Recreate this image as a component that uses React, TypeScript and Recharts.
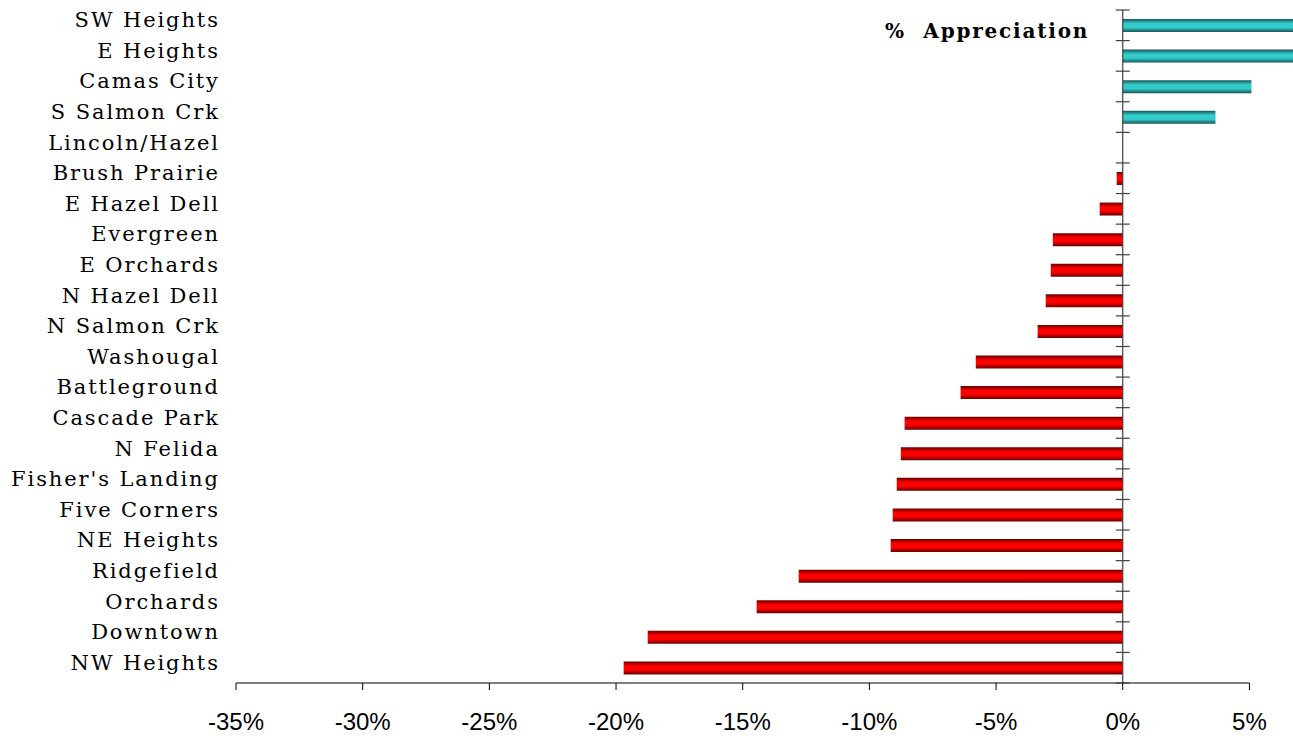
import { BarChart, Bar, XAxis, YAxis, Cell, ReferenceLine, ReferenceArea } from "recharts"

const areas = [
  "SW Heights", "E Heights", "Camas City", "S Salmon Crk", "Lincoln/Hazel", "Brush Prairie",
  "E Hazel Dell", "Evergreen", "E Orchards", "N Hazel Dell", "N Salmon Crk", "Washougal",
  "Battleground", "Cascade Park", "N Felida", "Fisher's Landing", "Five Corners", "NE Heights",
  "Ridgefield", "Orchards", "Downtown", "NW Heights",
]
const appreciation = [
  8.1, 7.6, 5.08, 3.66, 0, -0.24,
  -0.91, -2.76, -2.84, -3.04, -3.36, -5.8,
  -6.4, -8.61, -8.76, -8.92, -9.08, -9.16,
  -12.79, -14.45, -18.75, -19.7,
]
const pctTicks = [-35, -30, -25, -20, -15, -10, -5, 0, 5]

const data = areas.map((name, i) => ({ name, value: appreciation[i] }))

function AreaTick({ x, y, payload }: any) {
  return (
    <text
      x={x}
      y={y}
      dx={1.9}
      dy={2}
      textAnchor="end"
      fontFamily="DejaVu Serif"
      fontSize={21}
      letterSpacing={1.9}
      fill="#000"
    >
      {payload.value}
    </text>
  )
}

// vertical axis at 0 with Excel-style cross ticks between categories
function ZeroAxis(props: any) {
  const { x1, y1, y2 } = props
  const n = areas.length
  const step = (y2 - y1) / n
  return (
    <g>
      <line x1={x1} x2={x1} y1={y1} y2={y2} stroke="#404040" strokeWidth={1.2} />
      {Array.from({ length: n + 1 }, (_, i) => (
        <line key={i} x1={x1 - 7} x2={x1 + 7} y1={y1 + i * step} y2={y1 + i * step} stroke="#404040" strokeWidth={1.2} />
      ))}
    </g>
  )
}

// x axis line only over the tick range (-35%..5%)
function BaseLine({ x, y, width, height }: any) {
  return <line x1={x} x2={x + width} y1={y + height} y2={y + height} stroke="#000" strokeWidth={1.2} />
}

export default function App() {
  return (
    <div style={{ position: "absolute", left: 0, top: 0 }}>
      <BarChart
        width={1293}
        height={736}
        data={data}
        layout="vertical"
        margin={{ top: 10, right: 0, left: 0, bottom: 0 }}
      >
        <defs>
          <linearGradient id="redBar" x1="0" y1="0" x2="0" y2="1">
            <stop offset="0%" stopColor="#660000" />
            <stop offset="35%" stopColor="#ff0000" />
            <stop offset="65%" stopColor="#ff0000" />
            <stop offset="100%" stopColor="#660000" />
          </linearGradient>
          <linearGradient id="tealBar" x1="0" y1="0" x2="0" y2="1">
            <stop offset="0%" stopColor="#175656" />
            <stop offset="35%" stopColor="#33cccc" />
            <stop offset="65%" stopColor="#33cccc" />
            <stop offset="100%" stopColor="#175656" />
          </linearGradient>
        </defs>
        <XAxis
          type="number"
          domain={[-35, 6.72]}
          allowDataOverflow
          ticks={pctTicks}
          tickFormatter={(v) => `${v}%`}
          axisLine={false}
          tickSize={7}
          tickMargin={23}
          tickLine={{ stroke: "#000" }}
          height={53}
          tick={{ fontFamily: "Liberation Sans", fontSize: 24, fill: "#000" }}
        />
        <YAxis
          type="category"
          dataKey="name"
          width={236}
          interval={0}
          axisLine={false}
          tickLine={false}
          tickSize={0}
          tickMargin={18}
          tick={<AreaTick />}
        />
        <Bar dataKey="value" barSize={13} isAnimationActive={false}>
          {data.map((d, i) => (
            <Cell key={i} fill={d.value >= 0 ? "url(#tealBar)" : "url(#redBar)"} />
          ))}
        </Bar>
        <ReferenceLine x={0} shape={<ZeroAxis />} />
        <ReferenceArea x1={-35} x2={5} shape={<BaseLine />} ifOverflow="visible" />
      </BarChart>
      <div
        style={{
          position: "absolute",
          left: 885,
          top: 21,
          fontFamily: "DejaVu Serif",
          fontWeight: "bold",
          fontSize: 20,
          lineHeight: "20px",
          letterSpacing: 1.8,
          whiteSpace: "pre",
        }}
      >
        %  Appreciation
      </div>
    </div>
  )
}
